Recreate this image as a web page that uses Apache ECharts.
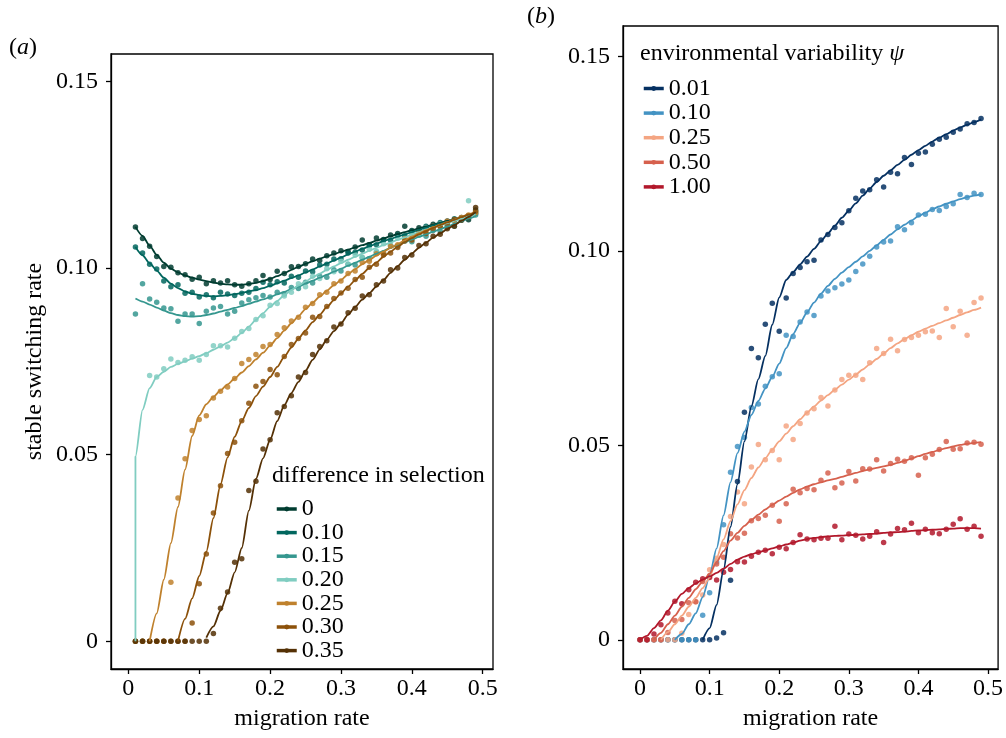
<!DOCTYPE html>
<html>
<head>
<meta charset="utf-8">
<script src="https://cdn.jsdelivr.net/npm/echarts@6/dist/echarts.min.js"></script>
<style>html,body{margin:0;padding:0;background:#fff;}#c{width:1006px;height:738px;}</style>
</head>
<body>
<div id="c"></div>
<script>
// ---------- data ----------
const migA = [0.01,0.02,0.03,0.04,0.05,0.06,0.07,0.08,0.09,0.10,0.11,0.12,0.13,0.14,0.15,0.16,0.17,0.18,0.19,0.20,0.21,0.22,0.23,0.24,0.25,0.26,0.27,0.28,0.29,0.30,0.31,0.32,0.33,0.34,0.35,0.36,0.37,0.38,0.39,0.40,0.41,0.42,0.43,0.44,0.45,0.46,0.47,0.48,0.49];
const migB = [0,0.01,0.02,0.03,0.04,0.05,0.06,0.07,0.08,0.09,0.10,0.11,0.12,0.13,0.14,0.15,0.16,0.17,0.18,0.19,0.20,0.21,0.22,0.23,0.24,0.25,0.26,0.27,0.28,0.29,0.30,0.31,0.32,0.33,0.34,0.35,0.36,0.37,0.38,0.39,0.40,0.41,0.42,0.43,0.44,0.45,0.46,0.47,0.48,0.49];
const xTicks = [0,0.1,0.2,0.3,0.4,0.5];
const yTicks = [0,0.05,0.10,0.15];
const diffSel = ['0','0.10','0.15','0.20','0.25','0.30','0.35'];
const envVar = ['0.01','0.10','0.25','0.50','1.00'];

// panel (a): points
const ptsA0 = [.1110,.1079,.1058,.1031,.1004,.1002,.0987,.0982,.0970,.0975,.0958,.0966,.0960,.0966,.0955,.0951,.0958,.0966,.0980,.0969,.0991,.0985,.1003,.1004,.1011,.1024,.1020,.1033,.1040,.1046,.1044,.1056,.1075,.1062,.1080,.1076,.1088,.1092,.1112,.1100,.1108,.1105,.1117,.1118,.1126,.1128,.1135,.1129,.1155];
const ptsA1 = [.1056,.1040,.1010,.0997,.0965,.0950,.0955,.0932,.0935,.0922,.0928,.0920,.0935,.0930,.0926,.0932,.0935,.0945,.0962,.0955,.0963,.0960,.0978,.0975,.0992,.0990,.1008,.1010,.1024,.1025,.1040,.1042,.1048,.1060,.1062,.1075,.1074,.1088,.1086,.1098,.1100,.1112,.1110,.1122,.1120,.1132,.1130,.1140,.1146];
const ptsA2 = [.0877,.0958,.0917,.0908,.0893,.0891,.0857,.0877,.0877,.0851,.0884,.0893,.0897,.0877,.0884,.0906,.0915,.0920,.0926,.0922,.0935,.0930,.0948,.0945,.0962,.0960,.0978,.0975,.0995,.0992,.1010,.1008,.1028,.1025,.1042,.1040,.1060,.1058,.1072,.1070,.1088,.1085,.1100,.1098,.1115,.1112,.1128,.1135,.1142];
const ptsA3 = [0,0,.0712,.0708,.0730,.0756,.0747,.0753,.0762,.0753,.0768,.0792,.0792,.0788,.0812,.0830,.0838,.0862,.0872,.0900,.0905,.0925,.0935,.0958,.0950,.0978,.0972,.0998,.0990,.1018,.1010,.1035,.1028,.1050,.1045,.1065,.1060,.1080,.1078,.1092,.1090,.1108,.1102,.1118,.1115,.1125,.1132,.1180,.1150];
const ptsA4 = [0,0,0,0,0,.0158,.0384,.0489,.0565,.0594,.0604,.0652,.0670,.0681,.0704,.0744,.0755,.0768,.0790,.0795,.0822,.0840,.0858,.0868,.0895,.0905,.0928,.0935,.0958,.0965,.0985,.0992,.1015,.1018,.1038,.1040,.1058,.1062,.1078,.1080,.1098,.1096,.1112,.1110,.1125,.1128,.1135,.1142,.1148];
const ptsA5 = [0,0,0,0,0,0,0,0,.0049,.0154,.0234,.0344,.0417,.0503,.0533,.0591,.0638,.0683,.0696,.0728,.0714,.0763,.0795,.0811,.0826,.0868,.0870,.0897,.0918,.0933,.0946,.0969,.0975,.1002,.1010,.1035,.1040,.1055,.1072,.1075,.1095,.1092,.1105,.1112,.1118,.1130,.1132,.1140,.1152];
const ptsA6 = [0,0,0,0,0,0,0,0,0,0,0,.0021,.0089,.0132,.0212,.0221,.0404,.0429,.0515,.0540,.0612,.0629,.0658,.0708,.0720,.0768,.0790,.0805,.0842,.0850,.0880,.0892,.0925,.0928,.0955,.0965,.0995,.1000,.1028,.1035,.1060,.1065,.1085,.1090,.1105,.1112,.1128,.1135,.1162];

// panel (a): fitted curves
const fitA0 = [.1110,.1086,.1060,.1035,.1014,.0998,.0988,.0980,.0974,.0969,.0965,.0961,.0958,.0956,.0955,.0955,.0957,.0960,.0965,.0971,.0978,.0986,.0995,.1003,.1011,.1018,.1025,.1031,.1037,.1043,.1049,.1055,.1061,.1067,.1073,.1079,.1085,.1091,.1096,.1101,.1106,.1111,.1116,.1121,.1126,.1131,.1136,.1141,.1146];
const fitA1 = [.1056,.1034,.1013,.0993,.0974,.0958,.0946,.0937,.0931,.0927,.0925,.0924,.0925,.0927,.0930,.0933,.0937,.0941,.0946,.0952,.0959,.0966,.0973,.0980,.0988,.0996,.1004,.1012,.1020,.1028,.1036,.1044,.1051,.1058,.1065,.1072,.1078,.1084,.1090,.1096,.1102,.1108,.1114,.1119,.1124,.1129,.1134,.1139,.1144];
const fitA2 = [.0918,.0910,.0902,.0894,.0886,.0879,.0874,.0871,.0870,.0871,.0874,.0878,.0883,.0888,.0893,.0898,.0904,.0910,.0916,.0922,.0929,.0936,.0943,.0950,.0958,.0966,.0974,.0982,.0990,.0998,.1006,.1014,.1022,.1030,.1038,.1046,.1054,.1062,.1069,.1076,.1083,.1090,.1097,.1104,.1111,.1118,.1125,.1132,.1139];
const fitA3Foot = 0;
const fitA3 = [.0495,.0620,.0678,.0708,.0722,.0735,.0743,.0750,.0757,.0764,.0772,.0781,.0790,.0800,.0812,.0826,.0843,.0861,.0879,.0896,.0912,.0927,.0941,.0953,.0964,.0975,.0985,.0995,.1004,.1013,.1022,.1030,.1038,.1046,.1054,.1061,.1068,.1075,.1082,.1089,.1096,.1102,.1108,.1114,.1120,.1126,.1132,.1138,.1144];
const fitA4 = [null,null,0,.0075,.0165,.0263,.0360,.0460,.0550,.0605,.0635,.0655,.0672,.0688,.0704,.0720,.0737,.0755,.0773,.0792,.0812,.0832,.0852,.0871,.0890,.0907,.0923,.0939,.0954,.0968,.0983,.0997,.1010,.1022,.1033,.1044,.1054,.1064,.1074,.1084,.1093,.1101,.1109,.1116,.1123,.1130,.1137,.1144,.1150];
const fitA5 = [null,null,null,null,null,null,0,.0060,.0115,.0175,.0240,.0330,.0420,.0493,.0548,.0590,.0625,.0657,.0682,.0708,.0735,.0762,.0787,.0811,.0833,.0855,.0875,.0895,.0914,.0932,.0950,.0967,.0984,.1000,.1015,.1030,.1044,.1057,.1069,.1080,.1090,.1099,.1107,.1115,.1122,.1129,.1136,.1143,.1150];
const fitA6 = [null,null,null,null,null,null,null,null,null,null,.0010,.0040,.0082,.0129,.0185,.0250,.0350,.0435,.0490,.0540,.0590,.0632,.0665,.0695,.0725,.0754,.0782,.0808,.0831,.0852,.0875,.0896,.0915,.0933,.0950,.0968,.0987,.1005,.1022,.1039,.1054,.1068,.1081,.1093,.1104,.1115,.1126,.1137,.1150];

// panel (b): points
const ptsB0 = [0,0,0,0,0,0,0,0,0,0,0,.0005,.0018,.0153,.0407,.0585,.0749,.0725,.0811,.0865,.0793,.0879,.0942,.0957,.0972,.0976,.1028,.1042,.1060,.1072,.1103,.1135,.1154,.1157,.1183,.1164,.1202,.1198,.1240,.1222,.1251,.1254,.1274,.1287,.1292,.1305,.1313,.1327,.1330,.1340];
const ptsB1 = [0,0,0,0,0,0,0,0,0,.0063,.0121,.0200,.0296,.0431,.0497,.0520,.0597,.0606,.0652,.0676,.0684,.0783,.0780,.0817,.0843,.0834,.0884,.0897,.0905,.0915,.0925,.0947,.0966,.0986,.1010,.1023,.1025,.1062,.1054,.1072,.1092,.1094,.1106,.1104,.1114,.1121,.1145,.1137,.1148,.1145];
const ptsB2 = [0,0,0,0,0,0,.0017,.0065,.0098,.0115,.0180,.0210,.0245,.0317,.0380,.0350,.0444,.0502,.0463,.0487,.0463,.0550,.0515,.0556,.0583,.0594,.0623,.0601,.0642,.0669,.0680,.0680,.0669,.0712,.0749,.0736,.0773,.0743,.0772,.0777,.0783,.0792,.0794,.0777,.0852,.0805,.0845,.0783,.0867,.0879];
const ptsB3 = [0,0,0,0,.0019,.0050,.0052,.0095,.0098,.0150,.0165,.0195,.0212,.0273,.0262,.0274,.0306,.0312,.0320,.0346,.0305,.0350,.0387,.0378,.0389,.0386,.0410,.0429,.0391,.0403,.0433,.0408,.0440,.0439,.0463,.0434,.0453,.0464,.0459,.0468,.0423,.0468,.0477,.0489,.0510,.0490,.0491,.0506,.0508,.0503];
const ptsB4 = [0,0,.0015,.0039,.0069,.0099,.0093,.0129,.0148,.0157,.0160,.0154,.0174,.0181,.0201,.0200,.0215,.0225,.0230,.0221,.0238,.0234,.0250,.0270,.0259,.0257,.0261,.0261,.0292,.0257,.0272,.0269,.0259,.0266,.0278,.0250,.0272,.0286,.0283,.0300,.0275,.0284,.0275,.0273,.0284,.0297,.0311,.0284,.0292,.0266];

// panel (b): fitted curves
const fitB0 = [null,null,null,null,null,null,null,null,null,0,.0030,.0090,.0180,.0290,.0400,.0510,.0600,.0670,.0730,.0810,.0880,.0925,.0945,.0965,.0985,.1005,.1025,.1045,.1065,.1085,.1103,.1122,.1142,.1160,.1177,.1193,.1207,.1221,.1234,.1247,.1259,.1270,.1281,.1291,.1300,.1309,.1317,.1324,.1331,.1338];
const fitB1 = [null,null,null,null,null,0,.0015,.0040,.0068,.0110,.0165,.0235,.0320,.0405,.0480,.0535,.0578,.0614,.0646,.0676,.0710,.0750,.0786,.0815,.0842,.0867,.0890,.0910,.0928,.0944,.0958,.0972,.0986,.1000,.1014,.1028,.1042,.1055,.1067,.1078,.1089,.1098,.1107,.1114,.1121,.1127,.1133,.1138,.1142,.1145];
const fitB2 = [null,null,null,0,.0020,.0040,.0062,.0085,.0108,.0133,.0160,.0210,.0258,.0305,.0348,.0385,.0416,.0443,.0467,.0489,.0510,.0530,.0549,.0567,.0584,.0600,.0615,.0629,.0643,.0656,.0669,.0682,.0695,.0708,.0722,.0736,.0750,.0762,.0773,.0783,.0792,.0800,.0807,.0814,.0821,.0828,.0835,.0842,.0848,.0854];
const fitB3 = [null,null,0,.0018,.0040,.0062,.0085,.0108,.0130,.0150,.0170,.0200,.0228,.0255,.0275,.0293,.0308,.0322,.0335,.0347,.0358,.0368,.0378,.0387,.0394,.0400,.0405,.0410,.0414,.0419,.0424,.0429,.0434,.0438,.0442,.0446,.0450,.0455,.0460,.0466,.0472,.0478,.0483,.0488,.0493,.0497,.0501,.0504,.0506,.0508];
const fitB4 = [0,.0010,.0030,.0050,.0075,.0098,.0118,.0133,.0145,.0155,.0163,.0172,.0183,.0195,.0206,.0214,.0220,.0225,.0230,.0235,.0240,.0245,.0250,.0255,.0259,.0262,.0264,.0266,.0267,.0268,.0269,.0270,.0271,.0272,.0273,.0275,.0276,.0277,.0278,.0280,.0281,.0282,.0283,.0284,.0285,.0286,.0287,.0287,.0287,.0286];

// ---------- styles ----------
const colorsA = ['#003c30','#01665e','#35978f','#80cdc1','#bf812d','#8c510a','#543005'];
const colorsB = ['#053061','#4393c3','#f4a582','#d6604d','#b2182b'];
const F = 'Liberation Serif';

const ptsA = [ptsA0,ptsA1,ptsA2,ptsA3,ptsA4,ptsA5,ptsA6];
const fitA = [fitA0,fitA1,fitA2,fitA3,fitA4,fitA5,fitA6];
const ptsB = [ptsB0,ptsB1,ptsB2,ptsB3,ptsB4];
const fitB = [fitB0,fitB1,fitB2,fitB3,fitB4];

function pairs(xs, ys){ return xs.map((x,i)=>[x, ys[i]]).filter(p=>p[1]!==null); }

const series = [];
function addGroup(prefix, names, colors, xs, pts, fits, gi, extraStart){
  names.forEach((nm,i)=>{
    let lineData = pairs(xs, fits[i]);
    if (extraStart && extraStart[i] !== undefined) lineData = [extraStart[i]].concat(lineData);
    series.push({
      type:'line', name: prefix+nm, xAxisIndex:gi, yAxisIndex:gi,
      data: lineData, symbol:'circle', symbolSize:5, showSymbol:false,
      smooth:0.25, smoothMonotone:'x',
      lineStyle:{color:colors[i], width:1.8}, itemStyle:{color:colors[i]},
      z:3, silent:true, animation:false
    });
    series.push({
      type:'scatter', name: prefix+nm, xAxisIndex:gi, yAxisIndex:gi,
      data: pairs(xs, pts[i]), symbol:'circle', symbolSize:5.5,
      itemStyle:{color:colors[i], opacity:0.85},
      z:2, silent:true, animation:false
    });
  });
}
const startA = []; startA[3] = [migA[0], fitA3Foot];
addGroup('a', diffSel, colorsA, migA, ptsA, fitA, 0, startA);
addGroup('b', envVar, colorsB, migB, ptsB, fitB, 1, null);

const txt = {fontFamily:F, fontSize:24, color:'#000'};
function xAxisCfg(gi){
  return {type:'value', gridIndex:gi, min:-0.0245, max:0.5145,
    name:'migration rate', nameLocation:'middle', nameGap:38, nameTextStyle:txt,
    axisLine:{show:true, onZero:false, lineStyle:{color:'#000', width:1.3}},
    axisTick:{show:true, length:5, customValues:xTicks, lineStyle:{color:'#000', width:1.3}},
    axisLabel:{customValues:xTicks, margin:8, fontFamily:F, fontSize:24, color:'#000',
      formatter:v=> v===0 ? '0' : String(Math.round(v*10)/10)},
    splitLine:{show:false}};
}
function yAxisCfg(gi, mn, mx, nm){
  return {type:'value', gridIndex:gi, min:mn, max:mx,
    name:nm, nameLocation:'middle', nameGap:64, nameRotate:90, nameTextStyle:txt,
    axisLine:{show:true, onZero:false, lineStyle:{color:'#000', width:1.3}},
    axisTick:{show:true, length:5, customValues:yTicks, lineStyle:{color:'#000', width:1.3}},
    axisLabel:{customValues:yTicks, margin:13, fontFamily:F, fontSize:24, color:'#000',
      formatter:v=> v===0 ? '0' : v.toFixed(2)},
    splitLine:{show:false}};
}

const chart = echarts.init(document.getElementById('c'), null, {renderer:'canvas'});
chart.setOption({
  animation:false,
  backgroundColor:'#fff',
  grid:[
    {left:111, top:54, width:382, height:615, show:true, borderColor:'#000', borderWidth:1.3, backgroundColor:'transparent'},
    {left:623, top:26, width:379, height:643, show:true, borderColor:'#000', borderWidth:1.3, backgroundColor:'transparent'}
  ],
  xAxis:[xAxisCfg(0), xAxisCfg(1)],
  yAxis:[yAxisCfg(0,-0.0074,0.1573,'stable switching rate'), yAxisCfg(1,-0.0075,0.1578,'')],
  title:[
    {text:'({i|a})', left:9, top:36, padding:0, textStyle:{fontFamily:F, fontSize:24, fontWeight:'normal', color:'#000', rich:{i:{fontFamily:F, fontSize:24, fontStyle:'italic', color:'#000'}}}},
    {text:'({i|b})', left:527, top:5, padding:0, textStyle:{fontFamily:F, fontSize:24, fontWeight:'normal', color:'#000', rich:{i:{fontFamily:F, fontSize:24, fontStyle:'italic', color:'#000'}}}},
    {text:'difference in selection', left:272, top:464, padding:0, textStyle:{fontFamily:F, fontSize:24, fontWeight:'normal', color:'#000'}},
    {text:'environmental variability {i|ψ}', left:640, top:42, padding:0, textStyle:{fontFamily:F, fontSize:24, fontWeight:'normal', color:'#000', rich:{i:{fontFamily:F, fontSize:24, fontStyle:'italic', color:'#000'}}}}
  ],
  legend:[
    {orient:'vertical', left:275, top:497, padding:0, itemWidth:20, itemHeight:6, itemGap:-0.4,
     data: diffSel.map(n=>'a'+n), formatter:n=>n.slice(1), selectedMode:false,
     lineStyle:{width:3.5},
     textStyle:{fontFamily:F, fontSize:24, color:'#000', lineHeight:22}},
    {orient:'vertical', left:642, top:76.5, padding:0, itemWidth:20, itemHeight:6, itemGap:0.6,
     data: envVar.map(n=>'b'+n), formatter:n=>n.slice(1), selectedMode:false,
     lineStyle:{width:3.5},
     textStyle:{fontFamily:F, fontSize:24, color:'#000', lineHeight:22}}
  ],
  series: series
});
</script>
</body>
</html>
